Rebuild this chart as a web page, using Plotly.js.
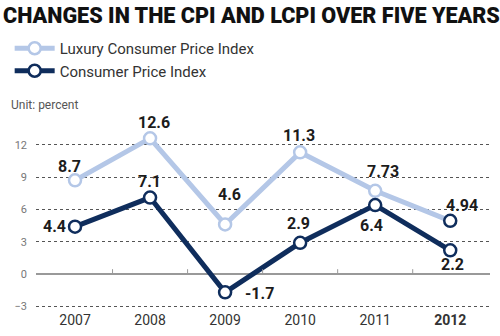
<!DOCTYPE html>
<html><head><meta charset="utf-8">
<script src="https://cdn.plot.ly/plotly-3.0.1.min.js"></script>
<style>html,body{margin:0;padding:0;background:#fff}#c{width:500px;height:336px}</style>
</head><body><div id="c"></div>
<script>
const years = ["2007","2008","2009","2010","2011","2012"];
const yearLabels = ["2007","2008","2009","2010","2011","<b>2012</b>"];
const lcpi = [8.7, 12.6, 4.6, 11.3, 7.73, 4.94];
const cpi = [4.4, 7.1, -1.7, 2.9, 6.4, 2.2];
const lcpiLabels = ["8.7","12.6","4.6","11.3","7.73","4.94"];
const cpiLabels = ["4.4","7.1","-1.7","2.9","6.4","2.2"];
// label offsets in pixels from each point (style)
const lcpiOff = [[-6,14],[4,16],[4,30],[-1,17],[8,19],[12,15]];
const cpiOff = [[-21,0],[-1,16],[34,-1],[-2,19],[-4,-20],[2,-14]];

const light = "#b4c7e7", dark = "#0f2d5c";
const idx = years.map((_, i) => i);
const fam = "Roboto, 'Liberation Sans', sans-serif";
const labelFont = {family: fam, size: 16, color: "#1c1c1c", weight: 700};

const traces = [
  {x: idx, y: lcpi, name: "Luxury Consumer Price Index", mode: "lines+markers",
   line: {color: light, width: 5},
   marker: {size: 12, color: "#fff", line: {color: lcpi.map((_, i) => i === 5 ? dark : light), width: 2.5}},
   cliponaxis: false},
  {x: idx, y: cpi, name: "Consumer Price Index", mode: "lines+markers",
   line: {color: dark, width: 5},
   marker: {size: 12, color: "#fff", line: {color: dark, width: 2.5}},
   cliponaxis: false}
];

const shapes = [0.5, 1.5, 2.5, 3.5, 4.5].map(v => ({
  type: "line", xref: "x", yref: "y", x0: v, x1: v, y0: 0, y1: 0.45,
  line: {color: "#999", width: 1}
}));

const mk = (vals, labels, off) => vals.map((v, i) => ({
  x: idx[i], y: v, xref: "x", yref: "y", text: labels[i], showarrow: false,
  xanchor: "center", yanchor: "middle", xshift: off[i][0], yshift: off[i][1], font: labelFont
}));

const layout = {
  width: 500, height: 336,
  margin: {l: 34, r: 10, t: 110, b: 26},
  paper_bgcolor: "#fff", plot_bgcolor: "#fff",
  showlegend: true,
  title: {text: "CHANGES IN THE CPI AND LCPI OVER FIVE YEARS", x: 0.006, xanchor: "left", xref: "container",
          y: 0.955, yanchor: "middle",
          font: {family: fam, size: 21.6, weight: 900, color: "#111"}},
  legend: {x: -0.058, y: 1.39, xanchor: "left", yanchor: "top", orientation: "v",
           font: {family: fam, size: 15, color: "#333"},
           tracegroupgap: 2, itemwidth: 40, bgcolor: "rgba(0,0,0,0)"},
  xaxis: {range: [-0.52, 5.53], tickvals: idx, ticktext: yearLabels, showgrid: false, zeroline: false,
          showline: false, ticks: "", tickfont: {family: fam, size: 14, color: "#333"}},
  yaxis: {range: [-3.34, 15.23], tickvals: [-3, 0, 3, 6, 9, 12], showgrid: true, gridcolor: "#555",
          griddash: "dot", gridwidth: 1, zeroline: true, zerolinecolor: "#999", zerolinewidth: 1.5,
          showline: false, ticks: "", ticklabelstandoff: 8,
          tickfont: {family: fam, size: 11, color: "#777"}},
  shapes: shapes,
  annotations: [{text: "Unit: percent", xref: "paper", yref: "paper", x: -0.06, y: 1.025,
                 xanchor: "left", yanchor: "middle", showarrow: false,
                 font: {family: fam, size: 12, color: "#555"}}]
    .concat(mk(lcpi, lcpiLabels, lcpiOff), mk(cpi, cpiLabels, cpiOff))
};

Plotly.newPlot("c", traces, layout, {displayModeBar: false, staticPlot: true});
</script></body></html>
